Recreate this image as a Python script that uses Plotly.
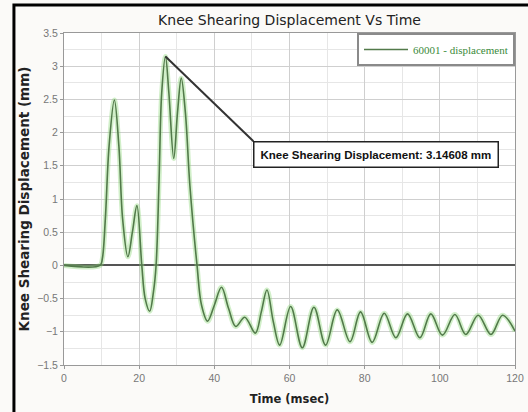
import plotly.graph_objects as go

# ---- data ----
time_ms = [0, 9.6, 10.2, 11.0, 12.0, 13.4, 14.6, 15.6, 17.0, 18.2, 19.4, 20.7, 21.6, 22.8, 23.8,
           24.5, 25.3, 26.0, 27.0, 27.9, 29.2, 30.2, 31.2, 32.3, 33.5, 35.4, 36.6, 38.2, 40.0,
           41.9, 43.8, 45.7, 48.1, 50.9, 52.5, 54.0, 55.7, 57.4, 60.3, 63.4, 66.5, 69.6, 72.7,
           76.1, 78.9, 82.0, 85.2, 88.3, 91.4, 94.7, 97.6, 100.7, 104.0, 106.9, 110.2, 113.6,
           116.7, 120.0]
displacement = [0, 0, 0.1, 0.7, 1.8, 2.49, 1.8, 0.7, 0.13, 0.5, 0.9, 0.0, -0.5, -0.69, -0.4,
                0.0, 1.3, 2.6, 3.14608, 2.6, 1.61, 2.3, 2.82, 2.3, 1.2, 0.0, -0.6, -0.84, -0.6,
                -0.33, -0.65, -0.92, -0.78, -1.02, -0.7, -0.37, -0.85, -1.2, -0.62, -1.24, -0.63,
                -1.2, -0.67, -1.15, -0.70, -1.16, -0.72, -1.09, -0.73, -1.09, -0.73, -1.05, -0.74,
                -1.04, -0.75, -1.04, -0.75, -0.99]
series_name = "60001 - displacement"
title_text = "Knee Shearing Displacement Vs Time"
x_title = "Time (msec)"
y_title = "Knee Shearing Displacement (mm)"
x_ticks = [0, 20, 40, 60, 80, 100, 120]
y_ticks = [-1.5, -1, -0.5, 0, 0.5, 1, 1.5, 2, 2.5, 3, 3.5]

peak_val = max(displacement)
peak_t = time_ms[displacement.index(peak_val)]
label_text = f"Knee Shearing Displacement: {peak_val:.5f} mm"

fig = go.Figure()
# soft glow under the curve
fig.add_trace(go.Scatter(x=time_ms, y=displacement, mode="lines", line_shape="spline",
                         line=dict(color="rgba(140,215,120,0.4)", width=5),
                         showlegend=False, hoverinfo="skip"))
fig.add_trace(go.Scatter(x=time_ms, y=displacement, mode="lines", line_shape="spline",
                         name=series_name, line=dict(color="#527a4a", width=1.6)))

# connector from peak to label corner
label_corner_x, label_corner_y = 50.4, 1.87
fig.add_shape(type="line", x0=peak_t, y0=peak_val, x1=label_corner_x, y1=label_corner_y,
              xref="x", yref="y", line=dict(color="#333333", width=2))
fig.add_annotation(x=label_corner_x, y=label_corner_y, xref="x", yref="y",
                   xanchor="left", yanchor="top", showarrow=False,
                   text=f"<b>{label_text}</b>",
                   font=dict(family="Liberation Sans, Arial", size=11.5, color="#111111"),
                   bgcolor="white", bordercolor="#222222", borderwidth=1.5, borderpad=6)

# outer black frame
fig.add_shape(type="rect", xref="paper", yref="paper",
              x0=-0.111, x1=1.08, y0=-0.2, y1=1.084,
              line=dict(color="black", width=3), layer="below")

fig.update_layout(
    width=528, height=412,
    margin=dict(l=64, r=13, t=33, b=47, autoexpand=False),
    paper_bgcolor="#fbfaf8", plot_bgcolor="white",
    title=dict(text=title_text, x=0.5, xref="paper", xanchor="center", y=0.952, yanchor="middle",
               font=dict(family="DejaVu Sans", size=14, color="#222222")),
    legend=dict(x=1, y=1, xanchor="right", yanchor="top", bgcolor="white",
                bordercolor="#8a8a8a", borderwidth=2, itemwidth=44,
                font=dict(family="Liberation Serif", size=11, color="#3a8a3a")),
    showlegend=True,
)
fig.update_xaxes(range=[0, 120], tickvals=x_ticks, ticks="outside", ticklen=3,
                 tickcolor="#999999", automargin=False,
                 showline=True, linecolor="#999999", linewidth=1, mirror=True,
                 showgrid=True, gridcolor="#cfcfcf", gridwidth=1,
                 minor=dict(dtick=10, showgrid=True, gridcolor="#e6e6e6"),
                 zeroline=False,
                 tickfont=dict(family="Liberation Sans", size=10.5, color="#777777"),
                 title=dict(text=f"<b>{x_title}</b>", standoff=12,
                            font=dict(family="DejaVu Sans", size=11.5, color="#222222")))
fig.update_yaxes(range=[-1.5, 3.5], tickvals=y_ticks, ticks="outside", ticklen=3,
                 tickcolor="#999999", automargin=False,
                 showline=True, linecolor="#999999", linewidth=1, mirror=True,
                 showgrid=True, gridcolor="#cfcfcf", gridwidth=1,
                 minor=dict(dtick=0.25, showgrid=True, gridcolor="#e6e6e6"),
                 zeroline=True, zerolinecolor="#555555", zerolinewidth=1.5,
                 tickfont=dict(family="Liberation Sans", size=10.5, color="#777777"),
                 title=dict(text=f"<b>{y_title}</b>", standoff=4,
                            font=dict(family="DejaVu Sans", size=13.5, color="#222222")))

fig.write_html("out.html")
